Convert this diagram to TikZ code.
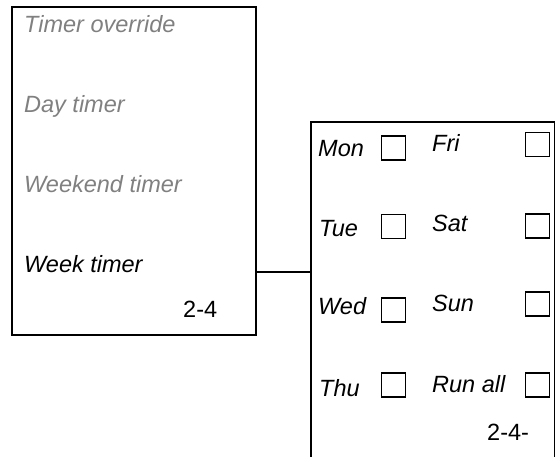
\documentclass[tikz,border=0pt]{standalone}
\usepackage{fontspec}
\setmainfont{Liberation Sans}
\usepackage{xcolor}
\usepackage{tikz}
\usetikzlibrary{positioning}

\definecolor{dimtext}{HTML}{808080}

\begin{document}
\begin{tikzpicture}[
  x=1pt,
  y=-1pt,
  panel/.style={draw, line width=2.4pt, inner sep=0pt},
  entry/.style={anchor=base west, inner sep=0pt, font=\fontsize{23.5}{28}\selectfont\itshape},
  dim/.style={entry, text=dimtext},
  code/.style={anchor=base west, inner sep=0pt, font=\fontsize{23.5}{28}\selectfont},
  tick/.style={draw, line width=1.8pt, minimum width=24pt, minimum height=24pt, inner sep=0pt},
  link/.style={line width=1.8pt}
]
\useasboundingbox (0,0) rectangle (555,457);
\clip (0,0) rectangle (555,457);
% menu panel
\node[panel, minimum width=244pt, minimum height=328pt] (menu) at (134,171) {};
\node[dim] (override) at (24,33) {Timer override};
\node[dim] (day) at (24,113) {Day timer};
\node[dim] (weekend) at (24,193) {Weekend timer};
\node[entry] (week) at (24,273) {Week timer};
\node[code] (menuno) at (183,318) {2-4};
% day panel
\node[panel, minimum width=244.5pt, minimum height=348pt] (days) at (433.25,296) {};
\node[entry] (mon) at (318,157) {Mon};
\node[tick] (monbox) at (393.5,148) {};
\node[entry] (tue) at (319,237) {Tue};
\node[tick] (tuebox) at (393.5,226.5) {};
\node[entry] (wed) at (318,315) {Wed};
\node[tick] (wedbox) at (393.5,310) {};
\node[entry] (thu) at (319,397) {Thu};
\node[tick] (thubox) at (393.5,385) {};
\node[entry] (fri) at (432,152) {Fri};
\node[tick] (fribox) at (537.5,144.5) {};
\node[entry] (sat) at (432,232) {Sat};
\node[tick] (satbox) at (537.5,226) {};
\node[entry] (sun) at (432,312) {Sun};
\node[tick] (sunbox) at (537.5,304) {};
\node[entry] (runall) at (432,392) {Run all};
\node[tick] (runallbox) at (537.5,385) {};
\node[code] (daysno) at (487,440) {2-4-};
% link
\coordinate (hook) at (menu.east |- 0,272);
\draw[link] (hook) -- (hook -| days.west);
\end{tikzpicture}
\end{document}
